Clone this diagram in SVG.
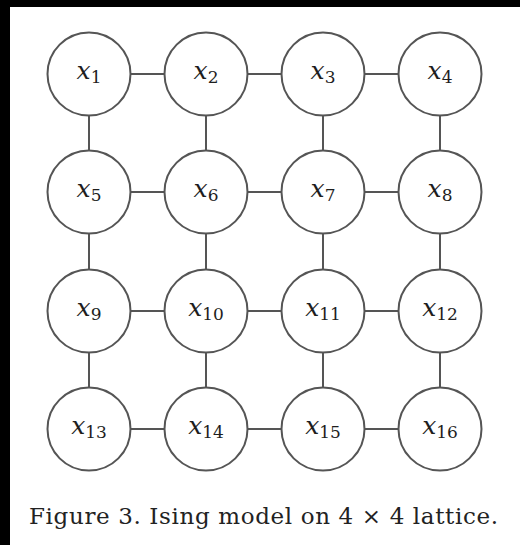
<svg xmlns="http://www.w3.org/2000/svg" width="520" height="545" viewBox="0 0 520 545">
  <style>
    .node circle { fill: #ffffff; stroke: #555555; stroke-width: 2; }
    .edges line { stroke: #555555; stroke-width: 2; }
    .lbl { font-size: 25px; font-style: italic; fill: #1e1e1e; text-anchor: middle; }
    .sub { font-style: normal; font-size: 17px; }
    .caption { font-size: 23px; fill: #222222; }
  </style>
  <rect x="0" y="0" width="520" height="545" fill="#ffffff"/>
  <!-- dark scan edges -->
  <rect x="0" y="0" width="520" height="7" fill="#000000"/>
  <rect x="0" y="0" width="10" height="545" fill="#000000"/>

  <g id="edges" class="edges">
    <!-- horizontal couplings -->
    <line x1="130.5" y1="74" x2="164.5" y2="74"/>
    <line x1="247.5" y1="74" x2="281.5" y2="74"/>
    <line x1="364.5" y1="74" x2="398.5" y2="74"/>
    <line x1="130.5" y1="192" x2="164.5" y2="192"/>
    <line x1="247.5" y1="192" x2="281.5" y2="192"/>
    <line x1="364.5" y1="192" x2="398.5" y2="192"/>
    <line x1="130.5" y1="311" x2="164.5" y2="311"/>
    <line x1="247.5" y1="311" x2="281.5" y2="311"/>
    <line x1="364.5" y1="311" x2="398.5" y2="311"/>
    <line x1="130.5" y1="429" x2="164.5" y2="429"/>
    <line x1="247.5" y1="429" x2="281.5" y2="429"/>
    <line x1="364.5" y1="429" x2="398.5" y2="429"/>
    <!-- vertical couplings -->
    <line x1="89" y1="115.5" x2="89" y2="150.5"/>
    <line x1="206" y1="115.5" x2="206" y2="150.5"/>
    <line x1="323" y1="115.5" x2="323" y2="150.5"/>
    <line x1="440" y1="115.5" x2="440" y2="150.5"/>
    <line x1="89" y1="233.5" x2="89" y2="269.5"/>
    <line x1="206" y1="233.5" x2="206" y2="269.5"/>
    <line x1="323" y1="233.5" x2="323" y2="269.5"/>
    <line x1="440" y1="233.5" x2="440" y2="269.5"/>
    <line x1="89" y1="352.5" x2="89" y2="387.5"/>
    <line x1="206" y1="352.5" x2="206" y2="387.5"/>
    <line x1="323" y1="352.5" x2="323" y2="387.5"/>
    <line x1="440" y1="352.5" x2="440" y2="387.5"/>
  </g>

  <g font-family="'DejaVu Serif', 'Liberation Serif', serif">
    <g id="x1" class="node"><circle cx="89" cy="74" r="41.5"/><text class="lbl" x="89" y="79">x<tspan class="sub" dy="4">1</tspan></text></g>
    <g id="x2" class="node"><circle cx="206" cy="74" r="41.5"/><text class="lbl" x="206" y="79">x<tspan class="sub" dy="4">2</tspan></text></g>
    <g id="x3" class="node"><circle cx="323" cy="74" r="41.5"/><text class="lbl" x="323" y="79">x<tspan class="sub" dy="4">3</tspan></text></g>
    <g id="x4" class="node"><circle cx="440" cy="74" r="41.5"/><text class="lbl" x="440" y="79">x<tspan class="sub" dy="4">4</tspan></text></g>

    <g id="x5" class="node"><circle cx="89" cy="192" r="41.5"/><text class="lbl" x="89" y="197">x<tspan class="sub" dy="4">5</tspan></text></g>
    <g id="x6" class="node"><circle cx="206" cy="192" r="41.5"/><text class="lbl" x="206" y="197">x<tspan class="sub" dy="4">6</tspan></text></g>
    <g id="x7" class="node"><circle cx="323" cy="192" r="41.5"/><text class="lbl" x="323" y="197">x<tspan class="sub" dy="4">7</tspan></text></g>
    <g id="x8" class="node"><circle cx="440" cy="192" r="41.5"/><text class="lbl" x="440" y="197">x<tspan class="sub" dy="4">8</tspan></text></g>

    <g id="x9" class="node"><circle cx="89" cy="311" r="41.5"/><text class="lbl" x="89" y="316">x<tspan class="sub" dy="4">9</tspan></text></g>
    <g id="x10" class="node"><circle cx="206" cy="311" r="41.5"/><text class="lbl" x="206" y="316">x<tspan class="sub" dy="4">10</tspan></text></g>
    <g id="x11" class="node"><circle cx="323" cy="311" r="41.5"/><text class="lbl" x="323" y="316">x<tspan class="sub" dy="4">11</tspan></text></g>
    <g id="x12" class="node"><circle cx="440" cy="311" r="41.5"/><text class="lbl" x="440" y="316">x<tspan class="sub" dy="4">12</tspan></text></g>

    <g id="x13" class="node"><circle cx="89" cy="429" r="41.5"/><text class="lbl" x="89" y="434">x<tspan class="sub" dy="4">13</tspan></text></g>
    <g id="x14" class="node"><circle cx="206" cy="429" r="41.5"/><text class="lbl" x="206" y="434">x<tspan class="sub" dy="4">14</tspan></text></g>
    <g id="x15" class="node"><circle cx="323" cy="429" r="41.5"/><text class="lbl" x="323" y="434">x<tspan class="sub" dy="4">15</tspan></text></g>
    <g id="x16" class="node"><circle cx="440" cy="429" r="41.5"/><text class="lbl" x="440" y="434">x<tspan class="sub" dy="4">16</tspan></text></g>

    <text class="caption" x="29" y="524" textLength="469" lengthAdjust="spacing">Figure 3.  Ising model on 4 × 4 lattice.</text>
  </g>
</svg>
